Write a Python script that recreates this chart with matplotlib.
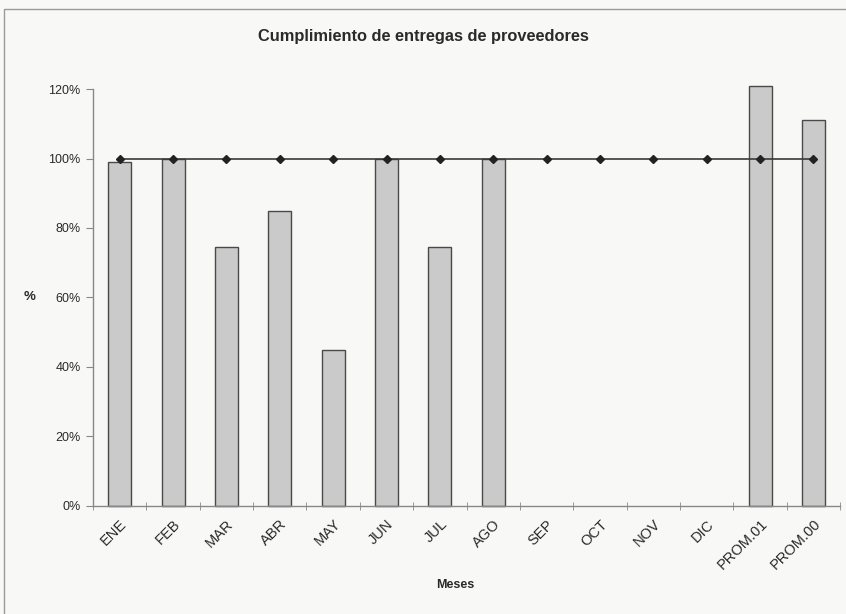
import numpy as np
import matplotlib
matplotlib.use('Agg')
import matplotlib.pyplot as plt
from matplotlib.patches import Rectangle
from matplotlib.ticker import FuncFormatter, MultipleLocator
from matplotlib.transforms import ScaledTranslation

plt.rcParams['font.family'] = ['Liberation Sans', 'DejaVu Sans']

# Datos del gráfico
meses = ['ENE', 'FEB', 'MAR', 'ABR', 'MAY', 'JUN', 'JUL', 'AGO',
         'SEP', 'OCT', 'NOV', 'DIC', 'PROM.01', 'PROM.00']
cumplimiento = [99, 100, 74.5, 85, 45, 100, 74.5, 100,
                np.nan, np.nan, np.nan, np.nan, 121, 111]
meta = [100] * len(meses)

fig = plt.figure(figsize=(8.46, 6.14), dpi=100, facecolor='#f8f8f6')
ax = fig.add_axes([0.110, 0.176, 0.883, 0.679])
ax.set_facecolor('#f8f8f6')

x = np.arange(len(meses))
ax.bar(x, cumplimiento, width=0.43, color='#cacaca', edgecolor='#4a4a4a',
       linewidth=1.0, zorder=2, clip_on=False)
ax.plot(x, meta, color='#3a3a3a', linewidth=1.2, marker='D', markersize=4.5,
        markerfacecolor='#222222', markeredgecolor='#222222', zorder=3)

ax.set_xlim(-0.5, len(meses) - 0.5)
ax.set_ylim(0, 120)
ax.yaxis.set_major_locator(MultipleLocator(20))
ax.yaxis.set_major_formatter(FuncFormatter(lambda v, p: f'{v:.0f}%'))

ax.set_xticks(x)
ax.set_xticklabels(meses, rotation=45, ha='right', rotation_mode='anchor',
                   fontsize=10.5, color='#2a2a2a')
# desplazar un poco las etiquetas hacia la izquierda
desplaz = ScaledTranslation(-4 / 72, 0, fig.dpi_scale_trans)
for lbl in ax.get_xticklabels():
    lbl.set_transform(lbl.get_transform() + desplaz)
ax.set_xticks(np.arange(len(meses) + 1) - 0.5, minor=True)
ax.tick_params(axis='x', which='major', length=0, pad=8)
ax.tick_params(axis='x', which='minor', length=6, direction='inout',
               color='#888888')
ax.tick_params(axis='y', length=5, direction='out', color='#888888',
               labelsize=9, labelcolor='#2a2a2a', pad=4)

for s in ['top', 'right']:
    ax.spines[s].set_visible(False)
for s in ['left', 'bottom']:
    ax.spines[s].set_color('#888888')
    ax.spines[s].set_linewidth(1.0)

fig.text(0.500, 0.940, 'Cumplimiento de entregas de proveedores',
         ha='center', va='center', fontsize=11.8, fontweight='bold',
         color='#2a2a2a')
fig.text(0.035, 0.516, '%', ha='center', va='center', fontsize=9.5,
         fontweight='bold', color='#2a2a2a')
fig.text(0.538, 0.047, 'Meses', ha='center', va='center', fontsize=9,
         fontweight='bold', color='#2a2a2a')

# Marco del área del gráfico
fig.patches.append(Rectangle((0.005, -0.01), 1.1, 0.995,
                             transform=fig.transFigure, fill=False,
                             edgecolor='#9a9a9a', linewidth=1.0))

fig.savefig('out.png', dpi=100, facecolor=fig.get_facecolor())
